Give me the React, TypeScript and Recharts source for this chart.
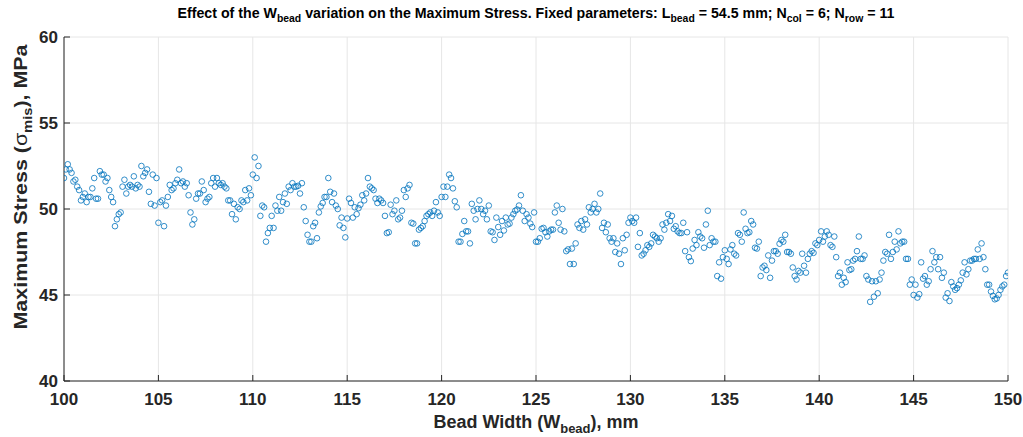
import React from 'react';
import { ScatterChart, Scatter, XAxis, YAxis, CartesianGrid } from 'recharts';

// Bead width samples start of each 5 mm block, step 0.1 mm
const blockStarts = [100, 105, 110, 115, 120, 125, 130, 135, 140, 145];
const widthStep = 0.1;

// Maximum stress (MPa), one value per 0.1 mm
const stress100 = [
  51.8, 52.3, 52.6, 52.3, 52.1, 51.6, 51.7, 51.3, 51.1, 50.5,
  50.7, 50.9, 50.4, 50.7, 50.7, 51.2, 51.8, 50.6, 50.6, 52.2,
  52.0, 52.0, 51.6, 51.8, 51.1, 50.7, 50.4, 49.0, 49.4, 49.7,
  49.8, 51.3, 51.7, 50.9, 51.3, 51.4, 51.3, 51.9, 51.2, 51.4,
  51.3, 52.5, 51.9, 52.1, 52.3, 51.0, 50.3, 52.0, 50.2, 51.8,
];
const stress105 = [
  49.2, 50.4, 50.5, 49.0, 50.2, 50.7, 51.4, 51.1, 51.2, 51.5,
  51.7, 52.3, 51.5, 51.6, 51.3, 51.5, 50.8, 49.8, 49.1, 49.4,
  50.6, 50.9, 50.9, 51.6, 51.1, 50.4, 50.6, 50.7, 51.5, 51.8,
  51.3, 51.8, 51.5, 51.4, 51.5, 51.3, 51.2, 50.5, 50.5, 49.7,
  50.3, 49.4, 50.1, 50.0, 50.5, 50.4, 51.1, 50.5, 51.2, 50.8,
];
const stress110 = [
  52.0, 53.0, 51.8, 52.5, 49.6, 50.2, 50.1, 48.1, 48.6, 48.9,
  49.6, 48.9, 50.2, 49.9, 50.7, 49.9, 50.4, 50.9, 50.3, 51.3,
  51.1, 51.5, 51.3, 51.3, 51.35, 50.9, 51.5, 50.1, 49.3, 48.5,
  48.1, 48.1, 49.0, 49.2, 48.3, 49.8, 50.15, 50.35, 50.7, 50.7,
  51.8, 51.0, 50.4, 50.9, 50.2, 50.0, 49.05, 49.5, 48.9, 48.35,
];
const stress115 = [
  49.45, 50.6, 50.35, 49.5, 50.1, 49.7, 50.05, 50.25, 50.8, 50.5,
  50.9, 51.8, 51.3, 51.2, 51.1, 50.6, 50.35, 50.6, 50.5, 50.35,
  49.6, 48.6, 48.65, 50.25, 49.7, 49.9, 50.5, 49.4, 49.5, 49.9,
  51.1, 50.7, 51.2, 51.4, 49.2, 49.15, 48.0, 48.0, 48.8, 48.9,
  49.0, 49.3, 49.6, 49.7, 49.8, 49.6, 49.9, 50.4, 49.8, 49.6,
];
const stress120 = [
  50.7, 51.3, 50.7, 51.3, 52.0, 51.8, 51.2, 50.45, 50.1, 48.1,
  48.1, 48.55, 49.3, 48.7, 48.7, 48.0, 50.3, 49.9, 49.4, 50.0,
  50.5, 50.0, 49.7, 49.9, 49.4, 50.2, 48.7, 48.65, 48.2, 49.5,
  48.95, 48.5, 49.3, 48.75, 49.5, 49.1, 49.15, 49.5, 49.7, 49.9,
  49.97, 50.2, 50.8, 49.9, 49.3, 49.7, 49.5, 49.15, 48.95, 49.8,
];
const stress125 = [
  48.1, 48.1, 48.3, 48.85, 48.9, 48.65, 48.4, 48.7, 48.8, 48.8,
  49.8, 50.2, 49.2, 48.8, 50.0, 48.7, 47.55, 47.65, 46.8, 47.7,
  46.8, 48.0, 49.1, 48.9, 49.3, 48.8, 49.4, 49.1, 50.1, 49.8,
  50.0, 50.3, 49.8, 50.0, 50.9, 48.9, 49.2, 48.65, 49.1, 48.3,
  48.1, 48.3, 47.5, 48.0, 47.4, 46.8, 48.3, 47.6, 48.5, 49.2,
];
const stress130 = [
  49.5, 49.3, 49.2, 49.5, 47.8, 48.6, 47.3, 47.4, 47.6, 47.9,
  47.8, 48.0, 48.5, 48.4, 48.3, 48.1, 48.3, 49.1, 48.8, 49.2,
  49.7, 49.3, 49.6, 48.85, 49.0, 48.7, 48.6, 48.6, 49.2, 47.55,
  48.65, 47.2, 46.97, 47.7, 48.2, 47.9, 48.65, 48.4, 48.3, 47.75,
  49.1, 49.9, 47.9, 48.3, 48.1, 48.1, 46.1, 46.9, 45.95, 47.2,
];
const stress135 = [
  47.6, 47.1, 46.8, 47.65, 47.9, 47.4, 47.3, 48.6, 48.5, 48.1,
  49.8, 48.85, 48.6, 48.65, 49.3, 49.1, 47.75, 47.7, 48.1, 46.1,
  46.6, 46.7, 46.45, 47.3, 46.0, 47.0, 47.55, 47.55, 47.4, 47.98,
  48.2, 48.1, 48.5, 47.5, 47.5, 47.4, 46.6, 46.1, 45.9, 46.4,
  46.3, 47.4, 46.7, 46.3, 47.1, 47.4, 47.55, 47.45, 48.0, 47.9,
];
const stress140 = [
  48.2, 48.7, 48.1, 48.4, 48.7, 48.5, 47.9, 47.8, 48.4, 47.2,
  46.1, 46.3, 45.6, 46.0, 45.75, 46.9, 46.45, 46.5, 47.0, 47.1,
  47.55, 48.4, 47.1, 47.1, 47.3, 46.1, 45.9, 44.6, 45.8, 44.9,
  45.8, 45.1, 45.9, 46.3, 47.0, 47.5, 47.4, 48.5, 47.1, 47.5,
  48.1, 47.65, 48.7, 48.0, 48.1, 48.1, 47.1, 47.1, 45.6, 45.9,
];
const stress145 = [
  45.0, 45.6, 44.85, 45.05, 46.9, 45.95, 46.1, 45.6, 45.8, 46.5,
  47.55, 46.9, 47.2, 46.5, 47.2, 46.0, 46.3, 44.85, 45.1, 44.65,
  45.75, 45.5, 45.3, 45.4, 45.6, 45.85, 46.3, 46.9, 46.2, 46.5,
  47.0, 47.0, 47.1, 47.1, 47.65, 47.1, 48.0, 47.2, 46.5, 45.6,
  45.6, 45.2, 44.95, 44.75, 44.8, 45.0, 45.3, 45.5, 45.6, 46.1,
  46.3,
];

const stressBlocks = [
  stress100, stress105, stress110, stress115, stress120,
  stress125, stress130, stress135, stress140, stress145,
];

const xTicks = [100, 105, 110, 115, 120, 125, 130, 135, 140, 145, 150];
const yTicks = [40, 45, 50, 55, 60];

const data = stressBlocks.flatMap((block, b) =>
  block.map((s, i) => ({
    w: Math.round((blockStarts[b] + i * widthStep) * 10) / 10,
    s,
  }))
);

const FONT = "'Liberation Sans', Arial, Helvetica, sans-serif";
const AX = '#262626';

const Ring = (props: any) => {
  const { cx, cy } = props;
  if (cx == null || cy == null) return null;
  return <circle cx={cx} cy={cy} r={2.8} fill="none" stroke="#0072BD" strokeWidth={0.8} />;
};

export default function App() {
  return (
    <div style={{ position: 'absolute', left: 0, top: 0, width: 1023, height: 437, background: '#fff' }}>
      <ScatterChart width={1023} height={437} margin={{ top: 37, right: 15, bottom: 0, left: 0 }}>
        <CartesianGrid stroke="#e6e6e6" strokeWidth={1} />
        <XAxis
          type="number"
          dataKey="w"
          domain={[100, 150]}
          ticks={xTicks}
          interval={0}
          allowDataOverflow
          height={56}
          tickSize={-6}
          tickMargin={18}
          axisLine={{ stroke: AX, strokeWidth: 1 }}
          tickLine={{ stroke: AX }}
          tick={{ fill: AX, fontSize: 17, fontWeight: 'bold', fontFamily: FONT }}
        />
        <YAxis
          type="number"
          dataKey="s"
          domain={[40, 60]}
          ticks={yTicks}
          interval={0}
          allowDataOverflow
          width={64}
          tickSize={-6}
          tickMargin={12}
          axisLine={{ stroke: AX, strokeWidth: 1 }}
          tickLine={{ stroke: AX }}
          tick={{ fill: AX, fontSize: 17, fontWeight: 'bold', fontFamily: FONT }}
        />
        <Scatter data={data} shape={Ring} isAnimationActive={false} />
      </ScatterChart>
      <svg
        width={1023}
        height={437}
        style={{ position: 'absolute', left: 0, top: 0, pointerEvents: 'none' }}
      >
        <text
          x={536}
          y={18}
          textAnchor="middle"
          fontSize={15}
          fontWeight="bold"
          fontFamily={"'Liberation Sans Narrow', " + FONT}
          fill="#000"
          textLength={717}
          lengthAdjust="spacingAndGlyphs"
        >
          {'Effect of the W'}
          <tspan fontSize={11} dy={4}>bead</tspan>
          <tspan dy={-4}>{' variation on the Maximum Stress. Fixed parameters: L'}</tspan>
          <tspan fontSize={11} dy={4}>bead</tspan>
          <tspan dy={-4}>{' = 54.5 mm; N'}</tspan>
          <tspan fontSize={11} dy={4}>col</tspan>
          <tspan dy={-4}>{' = 6; N'}</tspan>
          <tspan fontSize={11} dy={4}>row</tspan>
          <tspan dy={-4}>{' = 11'}</tspan>
        </text>
        <text
          transform="translate(27,187) rotate(-90)"
          x={0}
          y={0}
          textAnchor="middle"
          fontSize={19}
          fontWeight="bold"
          fontFamily={FONT}
          fill={AX}
          textLength={285}
          lengthAdjust="spacingAndGlyphs"
        >
          {'Maximum Stress ('}
          <tspan fontWeight="normal">σ</tspan>
          <tspan fontSize={13} dy={5}>mis</tspan>
          <tspan dy={-5}>{'), MPa'}</tspan>
        </text>
        <text
          x={536}
          y={428}
          textAnchor="middle"
          fontSize={18}
          fontWeight="bold"
          fontFamily={FONT}
          fill={AX}
          textLength={205}
          lengthAdjust="spacingAndGlyphs"
        >
          {'Bead Width (W'}
          <tspan fontSize={13} dy={5}>bead</tspan>
          <tspan dy={-5}>{'), mm'}</tspan>
        </text>
      </svg>
    </div>
  );
}
